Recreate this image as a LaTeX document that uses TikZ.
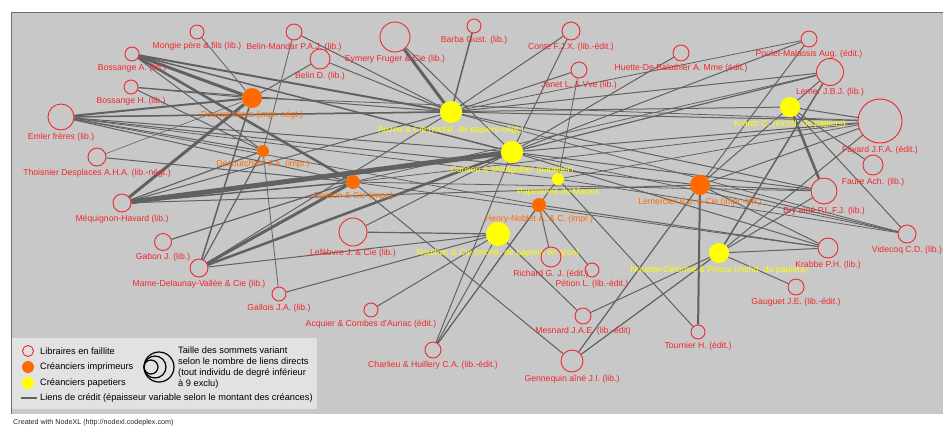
\documentclass[tikz,border=0pt]{standalone}
\usepackage{fontspec}
\setmainfont{Liberation Sans}
\usetikzlibrary{positioning}
\definecolor{plotgray}{HTML}{C8C8C8}
\definecolor{framegray}{HTML}{6E6E6E}
\definecolor{legendgray}{HTML}{E2E2E2}
\definecolor{failred}{HTML}{F0282D}
\definecolor{improrange}{HTML}{FF6A00}
\definecolor{papyellow}{HTML}{FFFF00}
\definecolor{linkgray}{HTML}{616161}
\pgfdeclarelayer{back}
\pgfdeclarelayer{links}
\pgfsetlayers{back,links,main}

\begin{document}
\begin{tikzpicture}[x=1bp, y=-1bp,
    every node/.style={font=\fontsize{8.7}{9}\selectfont},
    lib/.style={circle, draw=failred, line width=0.9bp, inner sep=0pt, minimum size=#1},
    impr/.style={circle, fill=improrange, inner sep=0pt, minimum size=#1},
    pap/.style={circle, fill=papyellow, inner sep=0pt, minimum size=#1},
    liblab/.style={text=failred, inner sep=0.5bp},
    imprlab/.style={text=improrange, inner sep=0.5bp},
    paplab/.style={text=papyellow, inner sep=0.5bp},
    link/.style={draw=linkgray, line width=#1},
    legtext/.style={font=\fontsize{9.3}{11}\selectfont, inner sep=0pt},
    label distance=2bp]
    \useasboundingbox (0,0) rectangle (943,427);

    % creanciers
    \node[impr=20bp, label={[imprlab]below:Pourrat frères (impr.-négt.)}] (pourrat) at (252,98) {};
    \node[impr=12bp, label={[imprlab]below:Decourchant J.A. (impr.)}] (decour) at (263,151) {};
    \node[impr=14bp, label={[imprlab]below:Cosson \& Cie (impr.)}] (cosson) at (353,182) {};
    \node[pap=22bp, label={[paplab]below:Auzou \& Cie (mchd. de papiers-négt.)}] (auzou) at (451,112) {};
    \node[pap=22bp, label={[paplab]below:Canson \& Montgolfier (papetier)}] (canson) at (512,152) {};
    \node[pap=12bp, label={[paplab]below:Papeteries du Marais}] (marais) at (558,179) {};
    \node[impr=14bp, label={[imprlab]below:Henry-Noblet A. \& C. (impr.)}] (noblet) at (539,205) {};
    \node[pap=24bp, label={[paplab]below:Roulhac \& Cie (mchd. de papiers en gros)}] (roulhac) at (498,234) {};
    \node[impr=20bp, label={[imprlab]below:Lemercier R.J. \& Cie (impr.-lith.)}] (lemercier) at (700,185) {};
    \node[pap=20bp, label={[paplab]below:Nouette-Delorme \& Prioux (mchd. de papiers)}] (nouette) at (719,253) {};
    \node[pap=20bp, label={[paplab]below:Krantz C. (mchd. de papiers)}] (krantz) at (790,107) {};

    % libraires en faillite
    \node[lib=14bp, label={[liblab]below:Mongie père \& fils (lib.)}] (mongie) at (197,32) {};
    \node[lib=14bp, label={[liblab]below:Bossange A. (lib.)}] (bossA) at (132,54) {};
    \node[lib=14bp, label={[liblab]below:Bossange H. (lib.)}] (bossH) at (131,87) {};
    \node[lib=26bp, label={[liblab]below:Emler frères (lib.)}] (emler) at (61,117) {};
    \node[lib=18bp, label={[liblab]below:Thoisnier Desplaces A.H.A. (lib.-négt.)}] (thoisnier) at (97,157) {};
    \node[lib=18bp, label={[liblab]below:Méquignon-Havard (lib.)}] (mequignon) at (122,203) {};
    \node[lib=17bp, label={[liblab]below:Gabon J. (lib.)}] (gabon) at (163,242) {};
    \node[lib=18bp, label={[liblab]below:Mame-Delaunay-Vallée \& Cie (lib.)}] (mame) at (199,268) {};
    \node[lib=14bp, label={[liblab]below:Gallois J.A. (lib.)}] (gallois) at (279,294) {};
    \node[lib=28bp, label={[liblab]below:Lefèbvre J. \& Cie (lib.)}] (lefebvre) at (353,232) {};
    \node[lib=14bp, label={[liblab]below:Acquier \& Combes d'Auriac (édit.)}] (acquier) at (371,310) {};
    \node[lib=16bp, label={[liblab]below:Charlieu \& Huillery C.A. (lib.-édit.)}] (charlieu) at (433,350) {};
    \node[lib=22bp, label={[liblab]below:Gennequin aîné J.I. (lib.)}] (gennequin) at (572,361) {};
    \node[lib=16bp, label={[liblab]below:Mesnard J.A.E. (lib.-édit)}] (mesnard) at (583,316) {};
    \node[lib=14bp, label={[liblab]below:Pétion L. (lib.-édit.)}] (petion) at (592,270) {};
    \node[lib=20bp, label={[liblab]below:Richard G. J. (édit.)}] (richard) at (551,257) {};
    \node[lib=14bp, label={[liblab]below:Tournier H. (édit.)}] (tournier) at (698,332) {};
    \node[lib=16bp, label={[liblab]below:Gauguet J.E. (lib.-édit.)}] (gauguet) at (796,287) {};
    \node[lib=20bp, label={[liblab]below:Krabbe P.H. (lib.)}] (krabbe) at (828,248) {};
    \node[lib=18bp, label={[liblab]below:Videcoq C.D. (lib.)}] (videcoq) at (907,234) {};
    \node[lib=26bp, label={[liblab]below:Bry aîné P.L.F.J. (lib.)}] (bry) at (824,191) {};
    \node[lib=20bp, label={[liblab]below:Faure Ach. (lib.)}] (faure) at (873,165) {};
    \node[lib=44bp, label={[liblab]below:Fayard J.F.A. (édit.)}] (fayard) at (880,121) {};
    \node[lib=27bp, label={[liblab]below:Lemer J.B.J. (lib.)}] (lemer) at (830,72) {};
    \node[lib=16bp, label={[liblab]below:Poulet-Malassis Aug. (édit.)}] (poulet) at (809,39) {};
    \node[lib=16bp, label={[liblab]below:Huette-De Balathier A. Mme (édit.)}] (huette) at (681,53) {};
    \node[lib=16bp, label={[liblab]below:Janet L. \& Vve (lib.)}] (janet) at (579,70) {};
    \node[lib=18bp, label={[liblab]below:Conte F.J.X. (lib.-édit.)}] (conte) at (571,31) {};
    \node[lib=14bp, label={[liblab]below:Barba Gust. (lib.)}] (barba) at (474,26) {};
    \node[lib=30bp, label={[liblab]below:Eymery Fruger \& Cie (lib.)}] (eymery) at (395,37) {};
    \node[lib=20bp, label={[liblab]below:Belin D. (lib.)}] (belinD) at (320,59) {};
    \node[lib=16bp, label={[liblab]below:Belin-Mandar P.A.J. (lib.)}] (belinM) at (294,32) {};

    \begin{pgfonlayer}{back}
        \fill[plotgray] (11,12) rectangle (943,414);
        \draw[framegray, line width=1bp] (943,12) -- (11,12) -- (11,414);
        \fill[legendgray] (12,338) rectangle (317,409);
    \end{pgfonlayer}

    \begin{pgfonlayer}{links}
    \foreach \a/\b/\w in {pourrat/mongie/0.8, pourrat/bossA/3, pourrat/bossH/1, pourrat/emler/2,
        pourrat/thoisnier/0.6, pourrat/mequignon/3, pourrat/belinD/1, pourrat/mame/1.5, pourrat/fayard/0.8,
        decour/belinM/0.8, decour/bossA/1, decour/bossH/1, decour/emler/1, decour/mequignon/1.2,
        decour/gallois/0.8, decour/mame/1.2,
        cosson/bossA/2.5, cosson/thoisnier/1, cosson/gabon/1.2, cosson/mame/3, cosson/mequignon/1.5,
        cosson/emler/1, cosson/gennequin/1, cosson/fayard/0.8, cosson/bry/0.8, cosson/lemer/0.8, cosson/krabbe/0.8,
        auzou/eymery/3, auzou/barba/1.5, auzou/conte/1, auzou/janet/1, auzou/belinD/1, auzou/belinM/1,
        auzou/bossA/2, auzou/bossH/1, auzou/emler/1.5, auzou/mequignon/1, auzou/mame/1, auzou/lemer/1,
        auzou/fayard/1, auzou/bry/1, auzou/videcoq/0.8, auzou/poulet/0.8,
        canson/mequignon/5, canson/mame/2.5, canson/bossA/1.5, canson/emler/1, canson/lefebvre/1,
        canson/conte/1, canson/huette/1, canson/charlieu/1, canson/poulet/1, canson/lemer/1.2,
        canson/fayard/1, canson/bry/1, canson/krabbe/1, canson/videcoq/0.8, canson/eymery/1,
        marais/janet/0.8, marais/charlieu/1, marais/tournier/1, marais/videcoq/0.8, marais/fayard/0.8, marais/emler/0.8,
        noblet/richard/1, noblet/petion/1, noblet/charlieu/1, noblet/krabbe/1, noblet/emler/0.8,
        roulhac/lefebvre/1.2, roulhac/gallois/1, roulhac/acquier/1, roulhac/charlieu/1, roulhac/mesnard/1, roulhac/mame/1,
        lemercier/tournier/2, lemercier/poulet/1, lemercier/gennequin/1.2, lemercier/krabbe/1,
        lemercier/videcoq/1, lemercier/bry/1, lemercier/fayard/1, lemercier/lemer/1, lemercier/emler/1, lemercier/mequignon/1,
        nouette/gauguet/1, nouette/krabbe/1, nouette/gennequin/1.2, nouette/mesnard/1, nouette/bry/1,
        nouette/fayard/1, nouette/lemer/1.5,
        krantz/bry/2.5, krantz/faure/1, krantz/videcoq/1, krantz/fayard/1, krantz/emler/1}
        \draw[link=\w bp] (\a) -- (\b);
    \end{pgfonlayer}

    % legende
    \node[lib=11bp] (legfail) at (28,351) {};
    \node[legtext, anchor=west] (legfailtxt) at (40,351) {Libraires en faillite};
    \node[impr=12bp] (legimpr) at (28,367) {};
    \node[legtext, anchor=west] (legimprtxt) at (40,367) {Créanciers imprimeurs};
    \node[pap=12bp] (legpap) at (28,383) {};
    \node[legtext, anchor=west] (legpaptxt) at (40,383) {Créanciers papetiers};
    \coordinate (leglinkA) at (21,398);
    \coordinate (leglinkB) at (37,398);
    \node[legtext, anchor=west] (leglinktxt) at (40,398) {Liens de crédit (épaisseur variable selon le montant des créances)};
    \draw[link=1.3bp] (leglinkA) -- (leglinkB);
    \foreach \cx/\r in {159/15, 155/11, 151/7}
        \draw[black, line width=1.2bp] (\cx,367) circle (\r);
    \node[legtext, anchor=north west, align=left] (legsize) at (178,346.5)
        {Taille des sommets variant\\selon le nombre de liens directs\\(tout individu de degré inférieur\\à 9 exclu)};

    \node[anchor=west, inner sep=0pt, font=\fontsize{7.2}{8}\selectfont, text=black!85] (credit) at (13,423)
        {Created with NodeXL (http://nodexl.codeplex.com)};
\end{tikzpicture}
\end{document}
